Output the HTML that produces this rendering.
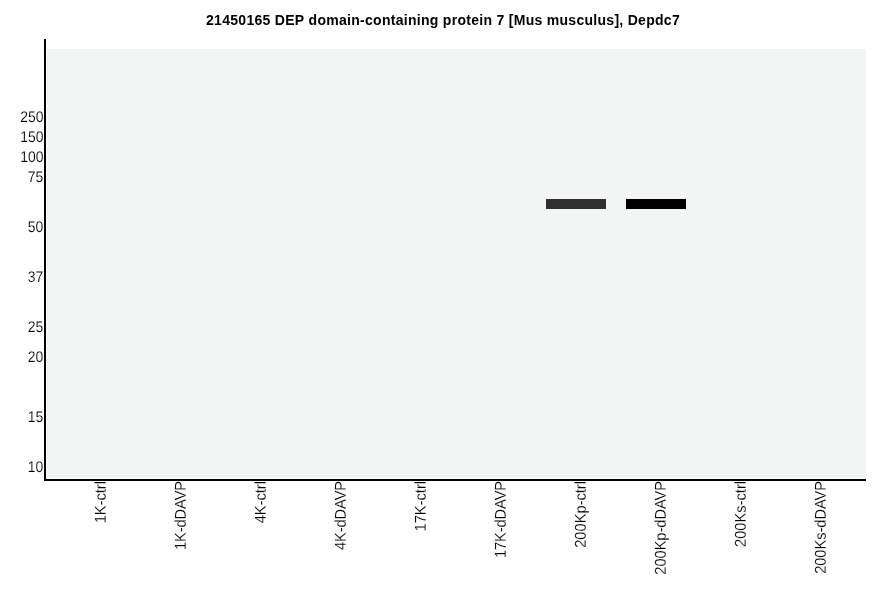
<!DOCTYPE html>
<html><head><meta charset="utf-8"><title>21450165 DEP domain-containing protein 7 [Mus musculus], Depdc7</title>
<style>
html,body{margin:0;padding:0;background:#fff;}
body{width:886px;height:595px;position:relative;overflow:hidden;font-family:"Liberation Sans",Arial,sans-serif;color:#000;}
.abs{position:absolute;}
#title{left:0;width:886px;top:12px;text-align:center;font-weight:bold;font-size:14px;line-height:16px;white-space:nowrap;letter-spacing:0.287px;font-kerning:none;}
#bg{left:47px;top:49px;width:819px;height:429px;background:#f3f5f4;}
#yaxis{left:44px;top:39px;width:2px;height:442px;background:#000;}
#xaxis{left:44px;top:479px;width:822px;height:2px;background:#000;}
.yl{-webkit-text-stroke:0.15px #fff;right:842.6px;font-size:14.67px;line-height:16px;height:16px;white-space:nowrap;text-align:right;transform-origin:100% 13px;transform:rotate(0.1deg) scale(0.95,1.06);}
.band{height:10px;width:60px;}
.xl{-webkit-text-stroke:0.15px #fff;font-size:14.67px;line-height:16px;height:16px;white-space:nowrap;transform-origin:0 0;transform:rotate(-90.1deg) scale(1,1.07);text-align:right;width:120px;}
</style></head><body>
<div class="abs" id="title">21450165 DEP domain-containing protein 7 [Mus musculus], Depdc7</div>
<div class="abs" id="bg"></div>
<div class="abs" id="yaxis"></div>
<div class="abs" id="xaxis"></div>
<div class="abs yl" style="top:109px">250</div>
<div class="abs yl" style="top:129px">150</div>
<div class="abs yl" style="top:149px">100</div>
<div class="abs yl" style="top:169px">75</div>
<div class="abs yl" style="top:219px">50</div>
<div class="abs yl" style="top:269px">37</div>
<div class="abs yl" style="top:319px">25</div>
<div class="abs yl" style="top:349px">20</div>
<div class="abs yl" style="top:409px">15</div>
<div class="abs yl" style="top:459px">10</div>
<div class="abs band" style="left:546px;top:199px;background:#303030"></div>
<div class="abs band" style="left:626px;top:199px;background:#000"></div>
<div class="abs xl" style="left:92px;top:601px">1K-ctrl</div>
<div class="abs xl" style="left:172px;top:601px;letter-spacing:-0.1px">1K-dDAVP</div>
<div class="abs xl" style="left:252px;top:601px">4K-ctrl</div>
<div class="abs xl" style="left:332px;top:601px;letter-spacing:-0.1px">4K-dDAVP</div>
<div class="abs xl" style="left:412px;top:601px">17K-ctrl</div>
<div class="abs xl" style="left:492px;top:601px;letter-spacing:-0.1px">17K-dDAVP</div>
<div class="abs xl" style="left:572px;top:601px">200Kp-ctrl</div>
<div class="abs xl" style="left:652px;top:601px;letter-spacing:-0.05px">200Kp-dDAVP</div>
<div class="abs xl" style="left:732px;top:601px">200Ks-ctrl</div>
<div class="abs xl" style="left:812px;top:601px;letter-spacing:-0.05px">200Ks-dDAVP</div>
</body></html>
